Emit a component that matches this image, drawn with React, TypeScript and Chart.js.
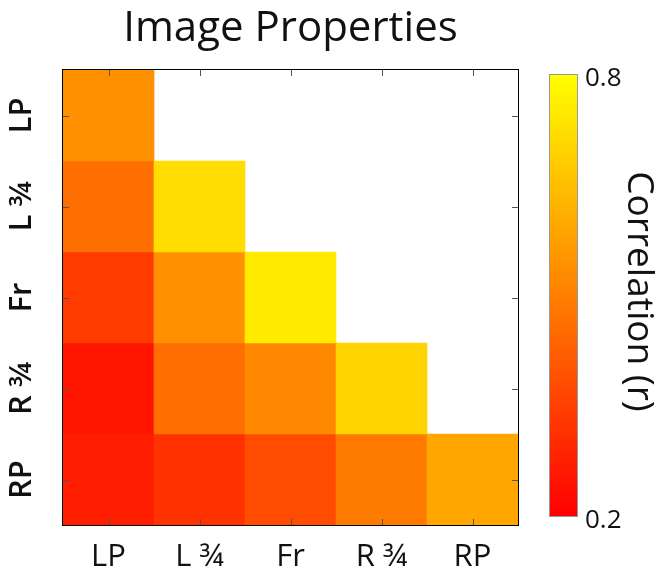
import React, { useEffect, useRef } from "react";
import { Chart, registerables } from "chart.js";

Chart.register(...registerables);

// Pose categories, shared by both axes
const poses = ["LP", "L ¾", "Fr", "R ¾", "RP"];

// Lower-triangle correlations, one row per pose (columns follow `poses`)
const rowLP = [0.54];
const rowL34 = [0.46, 0.72];
const rowFr = [0.34, 0.54, 0.75];
const rowR34 = [0.25, 0.46, 0.52, 0.7];
const rowRP = [0.27, 0.32, 0.38, 0.49, 0.59];

// Colour scale limits and their labels
const colorRange = [0.2, 0.8];
const colorbarTickLabels = ["0.2", "0.8"];

const titleText = "Image Properties";
const colorbarTitle = "Correlation (r)";

const FONT = "'Open Sans', 'Noto Sans', sans-serif";

// "autumn" colormap: red (low) to yellow (high)
function autumn(v: number): string {
  const t = Math.min(1, Math.max(0, (v - colorRange[0]) / (colorRange[1] - colorRange[0])));
  return `rgb(255, ${Math.round(t * 255)}, 0)`;
}

const rows = [rowLP, rowL34, rowFr, rowR34, rowRP];

const heatFrame = {
  id: "heatFrame",
  afterDatasetsDraw(chart: any) {
    const { ctx, chartArea: a, scales } = chart;
    const xs = scales.x;
    const ys = scales.y;
    const len = 6;
    ctx.save();
    // inward tick marks on all four sides
    ctx.strokeStyle = "#555";
    ctx.lineWidth = 1;
    ctx.beginPath();
    poses.forEach((_, i) => {
      const px = Math.round(xs.getPixelForValue(i)) + 0.5;
      ctx.moveTo(px, a.bottom);
      ctx.lineTo(px, a.bottom - len);
      ctx.moveTo(px, a.top);
      ctx.lineTo(px, a.top + len);
      const py = Math.round(ys.getPixelForValue(i)) + 0.5;
      ctx.moveTo(a.left, py);
      ctx.lineTo(a.left + len, py);
      ctx.moveTo(a.right, py);
      ctx.lineTo(a.right - len, py);
    });
    ctx.stroke();
    // plot frame
    ctx.strokeStyle = "#000";
    ctx.strokeRect(a.left - 0.5, a.top - 0.5, a.right - a.left + 1, a.bottom - a.top + 1);
    ctx.restore();
  },
  afterDraw(chart: any) {
    const { ctx, chartArea: a } = chart;
    const left = a.right + 32;
    const width = 27;
    const top = a.top + 5;
    const bottom = a.bottom - 9;
    ctx.save();
    const g = ctx.createLinearGradient(0, bottom, 0, top);
    g.addColorStop(0, autumn(colorRange[0]));
    g.addColorStop(1, autumn(colorRange[1]));
    ctx.fillStyle = g;
    ctx.fillRect(left, top, width, bottom - top);
    ctx.strokeStyle = "#999";
    ctx.lineWidth = 1;
    ctx.strokeRect(left - 0.5, top - 0.5, width + 1, bottom - top + 1);

    ctx.fillStyle = "#111";
    ctx.font = `26px ${FONT}`;
    ctx.textAlign = "left";
    ctx.textBaseline = "middle";
    ctx.fillText(colorbarTickLabels[1], left + width + 8, top + 4);
    ctx.fillText(colorbarTickLabels[0], left + width + 8, bottom + 5);

    ctx.font = `37px ${FONT}`;
    ctx.textAlign = "center";
    ctx.translate(left + width + 62, (top + bottom) / 2 - 4);
    ctx.rotate(Math.PI / 2);
    ctx.fillText(colorbarTitle, 0, 0);
    ctx.restore();
  },
};

export default function App() {
  const canvasRef = useRef<HTMLCanvasElement | null>(null);

  useEffect(() => {
    const canvas = canvasRef.current;
    if (!canvas) return;

    const datasets = rows.map((vals, r) => ({
      label: poses[r],
      data: poses.map((_, c) => (c < vals.length ? [r - 0.5, r + 0.5] : null)),
      backgroundColor: poses.map((_, c) => (c < vals.length ? autumn(vals[c]) : "rgba(0,0,0,0)")),
      borderWidth: 0,
      barPercentage: 1,
      categoryPercentage: 1,
      grouped: false,
    }));

    const chart = new Chart(canvas, {
      type: "bar",
      data: { labels: poses, datasets: datasets as any },
      options: {
        responsive: false,
        animation: false,
        events: [],
        layout: { padding: { left: 0, right: 145, top: 0, bottom: 0 } },
        plugins: {
          legend: { display: false },
          tooltip: { enabled: false },
          title: {
            display: true,
            text: titleText,
            fullSize: false,
            color: "#111",
            font: { family: FONT, size: 42, weight: "normal", lineHeight: 1.15 },
            padding: { top: 5, bottom: 16.7 },
          },
        },
        scales: {
          x: {
            type: "category",
            offset: true,
            grid: { display: false },
            border: { display: false },
            ticks: {
              font: { family: FONT, size: 31 },
              color: "#111",
              padding: 6,
              maxRotation: 0,
              autoSkip: false,
            },
            afterFit: (s: any) => {
              s.height = 47;
            },
          },
          y: {
            type: "linear",
            min: -0.5,
            max: 4.5,
            reverse: true,
            grid: { display: false },
            border: { display: false },
            afterBuildTicks: (s: any) => {
              s.ticks = poses.map((_, i) => ({ value: i }));
            },
            ticks: {
              font: { family: FONT, size: 31, weight: 600 },
              color: "#111",
              padding: 6,
              minRotation: 90,
              maxRotation: 90,
              crossAlign: "center",
              callback: (v: any) => poses[v] ?? "",
            },
            afterFit: (s: any) => {
              s.width = 63;
            },
          },
        },
      } as any,
      plugins: [heatFrame],
    });

    return () => chart.destroy();
  }, []);

  return (
    <div style={{ position: "absolute", left: 0, top: 0, width: 663, height: 572, background: "#fff" }}>
      <canvas ref={canvasRef} width={663} height={572} style={{ display: "block" }} />
    </div>
  );
}
